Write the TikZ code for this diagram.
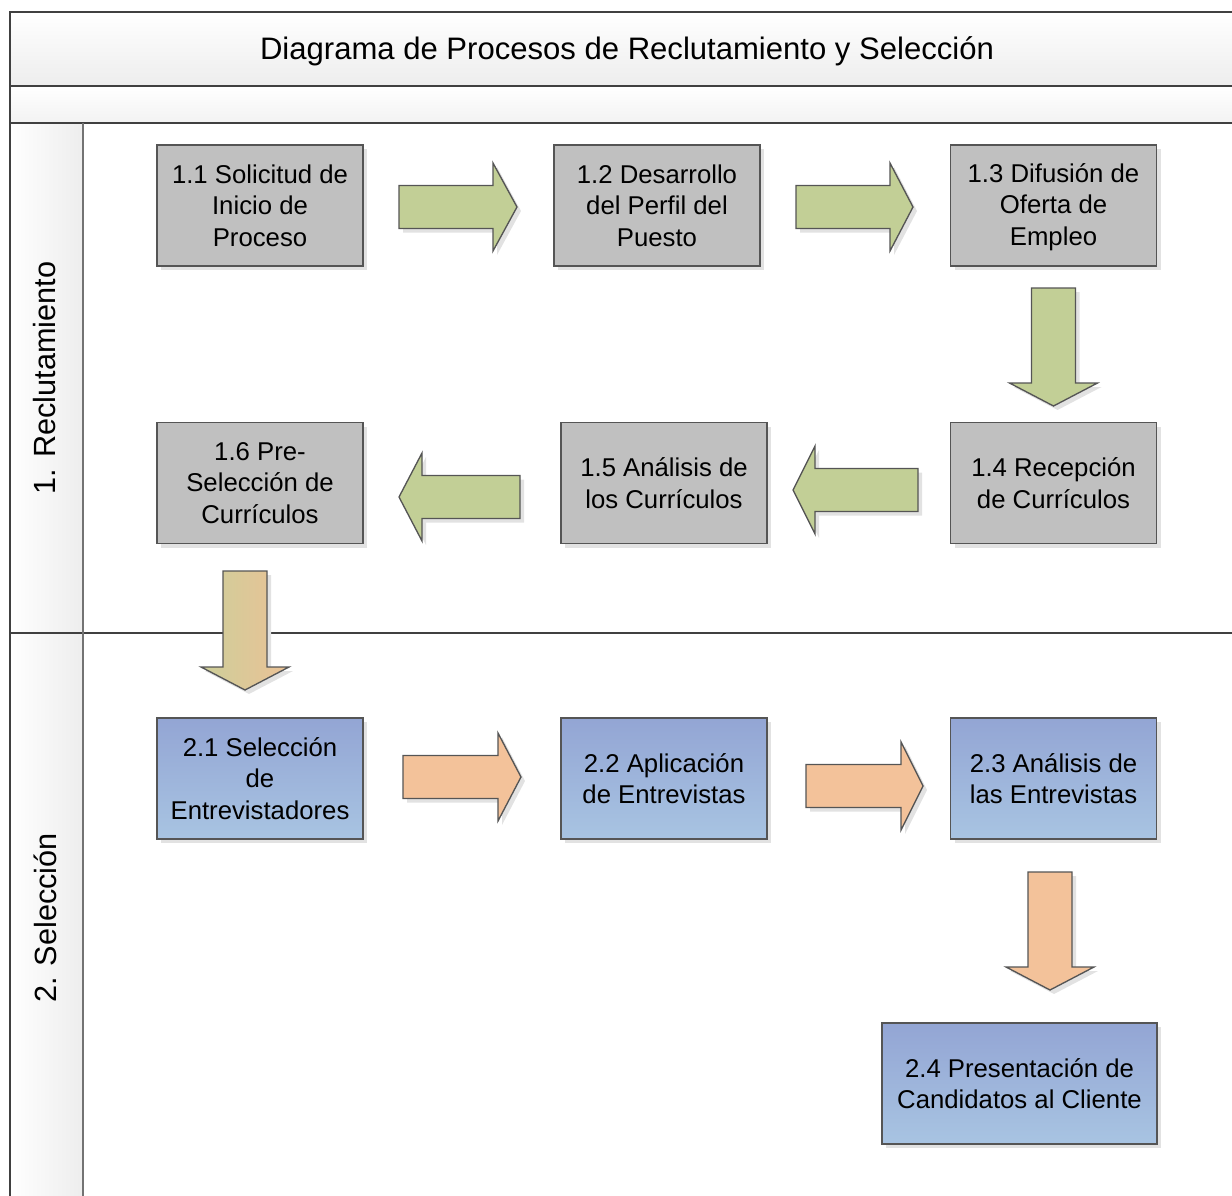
\documentclass[tikz,border=0pt]{standalone}
\usepackage{fontspec}
\setmainfont{Liberation Sans}
\usetikzlibrary{shadows}

\definecolor{framecol}{HTML}{404040}
\definecolor{edgecol}{HTML}{555555}
\definecolor{boxgray}{HTML}{C0C0C0}
\definecolor{bluetop}{HTML}{93A5D4}
\definecolor{bluebot}{HTML}{A8C4E2}
\definecolor{greenfill}{HTML}{C2CF96}
\definecolor{orangefill}{HTML}{F3C29A}
\definecolor{mixleft}{HTML}{CDCF9A}
\definecolor{mixright}{HTML}{EBC196}
\definecolor{shadowcol}{HTML}{E2E2E2}

% horizontal block arrow: start x, head base x, tip x, centre y, style
\newcommand{\hblock}[5]{%
  \fill[shadowcol,shift={(4,4)}] (#1,#4-21.5) -- (#2,#4-21.5) -- (#2,#4-44) -- (#3,#4)
    -- (#2,#4+44) -- (#2,#4+21.5) -- (#1,#4+21.5) -- cycle;
  \draw[#5] (#1,#4-21.5) -- (#2,#4-21.5) -- (#2,#4-44) -- (#3,#4)
    -- (#2,#4+44) -- (#2,#4+21.5) -- (#1,#4+21.5) -- cycle;}
% vertical block arrow: start y, head base y, tip y, centre x, style
\newcommand{\vblock}[5]{%
  \fill[shadowcol,shift={(4,4)}] (#4-22,#1) -- (#4-22,#2) -- (#4-44,#2) -- (#4,#3)
    -- (#4+44,#2) -- (#4+22,#2) -- (#4+22,#1) -- cycle;
  \draw[#5] (#4-22,#1) -- (#4-22,#2) -- (#4-44,#2) -- (#4,#3)
    -- (#4+44,#2) -- (#4+22,#2) -- (#4+22,#1) -- cycle;}

\begin{document}
\begin{tikzpicture}[x=0.75pt,y=-0.75pt,
  procbox/.style={draw=edgecol,line width=1pt,align=center,inner sep=2pt,
    minimum width=206*0.75pt,minimum height=121*0.75pt,
    font=\fontsize{19.3}{23.6}\selectfont,
    drop shadow={shadow xshift=3pt,shadow yshift=-3pt,fill=shadowcol,opacity=1}},
  graybox/.style={procbox,fill=boxgray},
  bluebox/.style={procbox,top color=bluetop,bottom color=bluebot},
  greenarrow/.style={draw=edgecol,line width=1pt,fill=greenfill},
  orangearrow/.style={draw=edgecol,line width=1pt,fill=orangefill},
  mixarrow/.style={draw=edgecol,line width=1pt,left color=mixleft,right color=mixright},
  frameline/.style={draw=framecol,line width=1.6pt},
  lanelabel/.style={rotate=90,font=\fontsize{23}{27}\selectfont}]

\useasboundingbox (0,0) rectangle (1232,1196);
\clip (0,0) rectangle (1232,1196);

% title band and sub band
\shade[top color=white,bottom color=black!7] (10,12) rectangle (1250,86);
\shade[top color=white,bottom color=black!5] (10,86) rectangle (1250,123);
% lane header column
\shade[left color=white,right color=black!7] (10,123) rectangle (83,1210);

\node[font=\fontsize{23.3}{28}\selectfont] (title) at (627,51)
  {Diagrama de Procesos de Reclutamiento y Selección};

% frame lines
\draw[frameline] (10,1210) -- (10,12) -- (1250,12);
\draw[frameline] (10,86) -- (1250,86);
\draw[frameline] (10,123) -- (1250,123);
\draw[frameline] (10,633) -- (1250,633);
\draw[draw=black!55,line width=1.6pt] (83,123) -- (83,1210);

\node[lanelabel] (lane1) at (45,378) {1. Reclutamiento};
\node[lanelabel] (lane2) at (45,918) {2. Selección};

% lane 1: recruitment
\node[graybox] (p11) at (260,205.5) {1.1 Solicitud de\\Inicio de\\Proceso};
\node[graybox] (p12) at (657,205.5) {1.2 Desarrollo\\del Perfil del\\Puesto};
\node[graybox,text depth=2pt] (p13) at (1053.5,205.5) {1.3 Difusión de\\Oferta de\\Empleo};
\node[graybox] (p14) at (1053.5,483) {1.4 Recepción\\de Currículos};
\node[graybox] (p15) at (664,483) {1.5 Análisis de\\los Currículos};
\node[graybox] (p16) at (260,483) {1.6 Pre-\\Selección de\\Currículos};

% lane 2: selection
\node[bluebox] (p21) at (260,778.5) {2.1 Selección\\de\\Entrevistadores};
\node[bluebox] (p22) at (664,778.5) {2.2 Aplicación\\de Entrevistas};
\node[bluebox] (p23) at (1053.5,778.5) {2.3 Análisis de\\las Entrevistas};
\node[bluebox,minimum width=275*0.75pt] (p24) at (1019.5,1083.5)
  {2.4 Presentación de\\Candidatos al Cliente};

% flow arrows
\hblock{399}{493}{517}{207}{greenarrow}
\hblock{796}{890}{913}{207}{greenarrow}
\vblock{288}{383}{406}{1053.5}{greenarrow}
\hblock{918}{815}{793}{490}{greenarrow}
\hblock{520}{422}{399}{497}{greenarrow}
\vblock{571}{667}{690}{245}{mixarrow}
\hblock{403}{498}{521}{777}{orangearrow}
\hblock{806}{901}{923}{786}{orangearrow}
\vblock{872}{967}{990}{1050}{orangearrow}

\end{tikzpicture}
\end{document}
